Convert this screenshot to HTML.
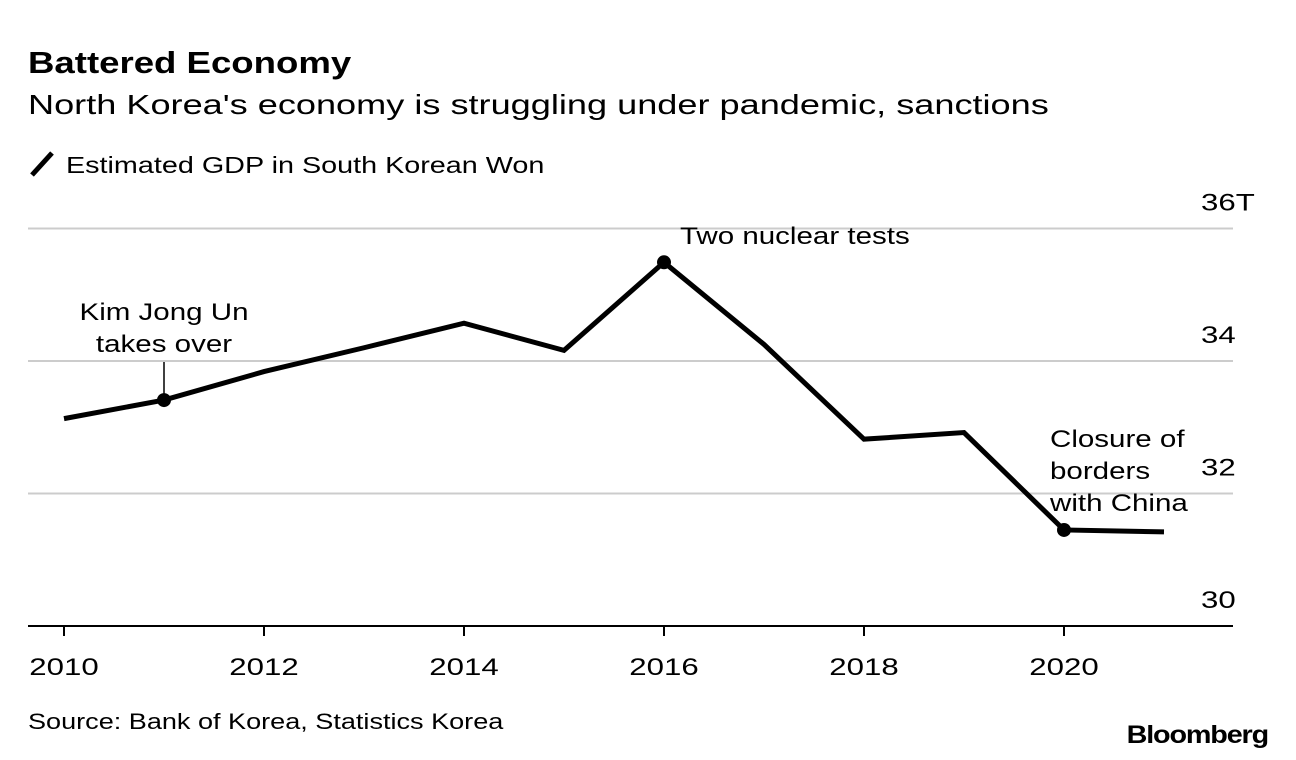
<!DOCTYPE html>
<html><head><meta charset="utf-8"><style>
body{margin:0;background:#fff;font-family:"Liberation Sans",Arial,sans-serif;}
.wrap{position:relative;width:1296px;height:760px;overflow:hidden}
</style></head><body><div class="wrap">
<svg width="1296" height="760">
<text x="28" y="73" font-size="31" font-weight="bold" data-sx="1.18">Battered Economy</text>
<text x="28" y="114" font-size="28" data-sx="1.29">North Korea's economy is struggling under pandemic, sanctions</text>
<line x1="32" y1="175" x2="52" y2="153" stroke="#000" stroke-width="5"/>
<text x="66" y="173" font-size="23" data-sx="1.25">Estimated GDP in South Korean Won</text>
<g id="grid"></g><g id="xaxis"></g>
<path id="line" fill="none" stroke="#000" stroke-width="5" stroke-linejoin="miter"/>
<g id="ann"></g>
<text x="28" y="729" font-size="22" data-sx="1.23">Source: Bank of Korea, Statistics Korea</text>
<text x="1268" y="743" font-size="25" font-weight="bold" text-anchor="end" data-sx="1.15" letter-spacing="-1">Bloomberg</text>
</svg></div>
<script>
const years=[2010,2011,2012,2013,2014,2015,2016,2017,2018,2019,2020,2021];
const gdp=[33.13,33.41,33.84,34.2,34.57,34.16,35.49,34.25,32.82,32.92,31.45,31.42];
const yTicks=[30,32,34,36];
const yTickLabels=["30","32","34","36T"];
const xTicks=[2010,2012,2014,2016,2018,2020];
const NS="http://www.w3.org/2000/svg";
const xs=v=>64+(v-2010)*100;
const ys=v=>626-(v-30)*66.25;
function mk(tag,attrs,parent,text){const e=document.createElementNS(NS,tag);for(const k in attrs)e.setAttribute(k,attrs[k]);if(text!==undefined)e.textContent=text;parent.appendChild(e);return e;}
const grid=document.getElementById('grid');
yTicks.forEach((t,i)=>{
  const y=ys(t);
  const l=mk('line',{x1:28,x2:1233,y1:y,y2:y,stroke:t===30?'#000':'#ccc','stroke-width':2},grid);
  
  
  const tx=mk('text',{x:1201,y:y-18,'font-size':24,'data-sx':1.3},grid,yTickLabels[i]);
  
  
});
const xa=document.getElementById('xaxis');
xTicks.forEach(t=>{
  const x=xs(t);
  const l=mk('line',{x1:x,x2:x,y1:626,y2:636,stroke:'#000','stroke-width':2},xa);
  
  
  const tx=mk('text',{x:x,y:675,'font-size':24,'text-anchor':'middle','data-sx':1.3},xa,String(t));
  
  
});
document.getElementById('line').setAttribute('d',years.map((yr,i)=>(i?'L':'M')+xs(yr)+','+ys(gdp[i])).join(''));
const ann=document.getElementById('ann');
function dot(i){const c=mk('circle',{cx:xs(years[i]),cy:ys(gdp[i]),r:7,fill:'#000'},ann);}
[1,6,10].forEach(dot);
const i1=1;
const l1=mk('line',{x1:xs(years[i1]),x2:xs(years[i1]),y1:ys(gdp[i1]),y2:362,stroke:'#000','stroke-width':1.5},ann);


function lbl(x,y,lines,anchor,name){lines.forEach((s,k)=>{const t=mk('text',{x:x,y:y+k*32,'font-size':24,'text-anchor':anchor,'data-sx':1.23},ann,s);});}
lbl(xs(2011),320,["Kim Jong Un","takes over"],'middle','annotation-kim');
lbl(xs(2016)+16,244,["Two nuclear tests"],'start','annotation-nuclear');
lbl(xs(2020)-14,447,["Closure of","borders","with China"],'start','annotation-borders');
document.querySelectorAll('text[data-sx]').forEach(t=>{
  const w=t.getComputedTextLength()*parseFloat(t.getAttribute('data-sx'));
  t.setAttribute('textLength',w);
  t.setAttribute('lengthAdjust','spacingAndGlyphs');
});
</script></body></html>
